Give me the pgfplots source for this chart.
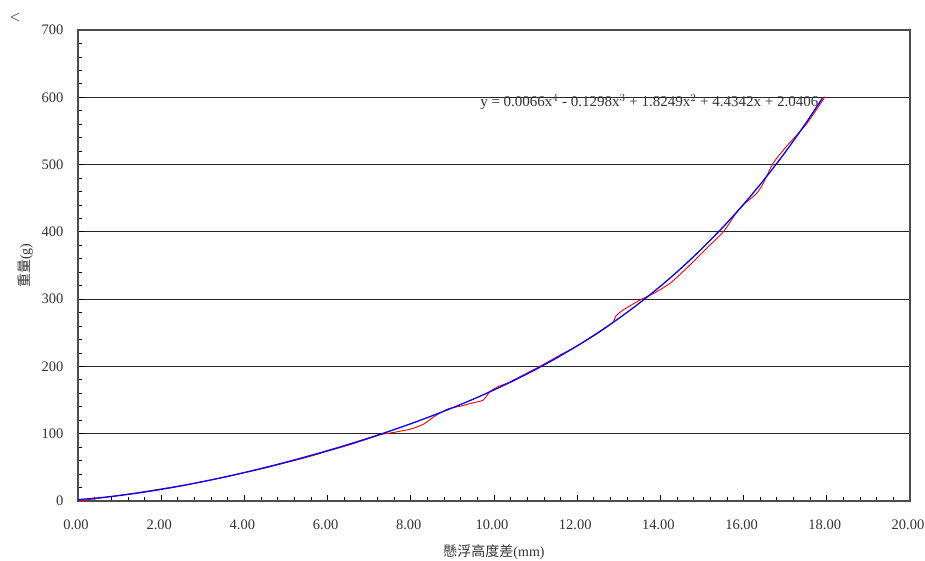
\documentclass[border=0pt]{standalone}
\usepackage{fontspec}
\setmainfont{Liberation Serif}
\newfontfamily\cjk{Noto Sans CJK TC}
\usepackage{pgfplots}
\pgfplotsset{compat=1.18}
\begin{document}
\begin{tikzpicture}
\useasboundingbox (-78pt,-59pt) rectangle (847pt,501pt);
\begin{axis}[
  at={(0,0)}, anchor=south west,
  scale only axis, width=832pt, height=471pt,
  xmin=0, xmax=20, ymin=0, ymax=700,
  xtick={0,2,...,20}, ytick={0,100,...,700},
  minor x tick num=4, minor y tick num=4,
  tick pos=left, tick align=inside,
  major tick length=6pt, minor tick length=4pt,
  tick style={black, line width=0.8pt},
  /pgf/number format/assume math mode=true,
  ticklabel style={font=\fontsize{14.5}{14.5}\selectfont, text=black!80},
  xticklabel style={/pgf/number format/fixed, /pgf/number format/fixed zerofill, /pgf/number format/precision=2, yshift=-15pt, xshift=-2pt},
  yticklabel style={xshift=-11pt},
  ymajorgrids, major grid style={black!85, line width=0.9pt},
  axis line style={black!70, line width=1.3pt},
  xlabel={{\cjk 懸浮高度差}(mm)},
  ylabel={{\cjk 重量}(g)},
  label style={font=\fontsize{14}{14}\selectfont, text=black!80},
  xlabel style={at={(axis description cs:0.5,0)}, anchor=center, yshift=-51pt},
  ylabel style={at={(axis description cs:0,0.5)}, anchor=center, yshift=52.5pt},
  clip=false,
]
\addplot[red, line width=0.9pt, smooth, tension=0.4] coordinates {
(0,0) (0.5,4) (1,8.5) (1.5,13) (2,18) (2.5,23) (3,29) (3.5,35) (4,42) (4.5,49)
(5,57) (5.5,65) (6,74) (6.5,83) (7,93) (7.3,99) (7.6,102) (8.0,107) (8.3,114)
(8.6,127) (8.9,137) (9.2,141) (9.5,146) (9.74,150) (9.9,162.5) (10.1,170) (10.38,177)
(11.1,200) (11.59,217) (12.07,233) (12.51,250) (12.67,256.6) (12.87,266.5) (12.93,275)
(13.11,284) (13.51,298.7) (13.87,309.6) (14.23,323.5) (14.63,346) (15.11,375.5)
(15.51,400) (15.79,425) (15.99,440) (16.31,457) (16.47,472) (16.71,502) (17.03,527)
(17.52,561) (17.96,601)
};
\addplot[blue, line width=1.3pt, smooth] coordinates {
(0,2.04) (0.5,4.70) (1,8.18) (1.5,12.39) (2,17.28) (2.5,22.76) (3,28.80) (3.5,35.34)
(4,42.36) (4.5,49.83) (5,57.73) (5.5,66.08) (6,74.86) (6.5,84.10) (7,93.83) (7.5,104.07)
(8,114.88) (8.5,126.32) (9,138.44) (9.5,151.33) (10,165.07) (10.5,179.75) (11,195.50)
(11.5,212.39) (12,230.60) (12.5,250.22) (13,271.43) (13.5,294.35) (14,319.17)
(14.5,346.07) (15,375.21) (15.5,406.79) (16,441.04) (16.5,478.15) (17,518.35)
(17.5,561.88) (17.9,599.25)
};
\node[anchor=east, font=\fontsize{15}{15}\selectfont, text=black!80, inner sep=0pt] at (axis cs:17.8,593) {y = 0.0066x$^{4}$ - 0.1298x$^{3}$ + 1.8249x$^{2}$ + 4.4342x + 2.0406};
\end{axis}
\node[font=\fontsize{18}{18}\selectfont, text=black!70] at (-63pt,482.5pt) {<};
\end{tikzpicture}
\end{document}
